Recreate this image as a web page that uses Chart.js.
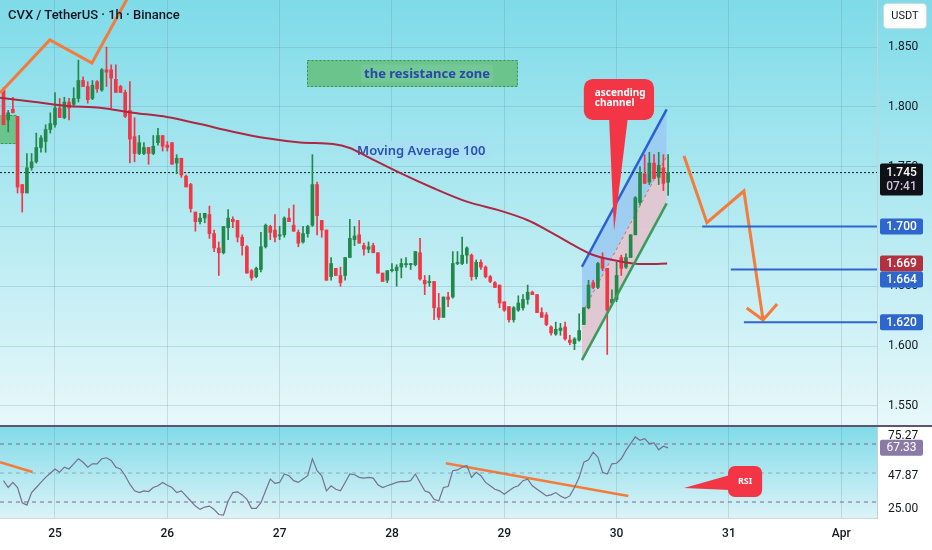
<!DOCTYPE html>
<html><head><meta charset="utf-8">
<script src="https://cdn.jsdelivr.net/npm/chart.js@4.4.1/dist/chart.umd.min.js"></script>
<style>
html,body{margin:0;padding:0;width:932px;height:550px;overflow:hidden;background:#fff}
#p1{position:absolute;left:0;top:0;width:932px;height:425px}
#sep{position:absolute;left:0;top:425px;width:932px;height:2px;background:#5e5470}
#p2{position:absolute;left:0;top:427px;width:932px;height:123px}
#title{position:absolute;left:8px;top:7px;font:500 13px Roboto,sans-serif;color:#131722;white-space:nowrap}
</style></head><body>
<div id="p1"><canvas id="c1"></canvas></div>
<div id="sep"></div>
<div id="p2"><canvas id="c2"></canvas></div>
<div id="title">CVX / TetherUS · 1h · Binance</div>
<script>
// ---------------- data ----------------
const firstHour = 13; // hours after 24 Mar 00:00 of the first visible candle
const openP = [1.814,1.789,1.798,1.792,1.735,1.728,1.749,1.754,1.766,1.771,
1.781,1.785,1.799,1.791,1.804,1.802,1.807,1.822,1.817,1.807,
1.821,1.814,1.831,1.831,1.823,1.817,1.812,1.797,1.775,1.761,
1.761,1.766,1.761,1.770,1.776,1.768,1.770,1.753,1.757,1.742,
1.735,1.712,1.704,1.707,1.710,1.694,1.682,1.678,1.699,1.706,
1.705,1.691,1.683,1.663,1.658,1.664,1.683,1.700,1.697,1.692,
1.693,1.707,1.701,1.695,1.687,1.694,1.701,1.735,1.705,1.697,
1.658,1.665,1.659,1.659,1.674,1.689,1.693,1.684,1.681,1.684,
1.678,1.661,1.655,1.663,1.663,1.666,1.668,1.668,1.668,1.678,
1.655,1.653,1.654,1.632,1.624,1.641,1.641,1.669,1.669,1.676,
1.676,1.658,1.670,1.666,1.658,1.653,1.651,1.637,1.633,1.622,
1.630,1.632,1.639,1.645,1.643,1.628,1.626,1.616,1.610,1.613,
1.616,1.605,1.602,1.605,1.618,1.632,1.653,1.649,1.674,1.665,
1.636,1.639,1.674,1.666,1.674,1.693,1.720,1.744,1.737,1.753,
1.741,1.749,1.737];
const highP = [1.816,1.797,1.808,1.792,1.735,1.761,1.761,1.778,1.776,1.785,
1.795,1.812,1.807,1.808,1.807,1.816,1.839,1.825,1.821,1.822,
1.822,1.832,1.850,1.835,1.835,1.818,1.814,1.821,1.791,1.776,
1.770,1.766,1.776,1.782,1.776,1.771,1.770,1.760,1.757,1.743,
1.736,1.712,1.711,1.711,1.717,1.697,1.687,1.700,1.714,1.708,
1.705,1.693,1.684,1.664,1.666,1.695,1.702,1.701,1.710,1.700,
1.708,1.715,1.718,1.697,1.700,1.701,1.760,1.737,1.705,1.697,
1.674,1.665,1.666,1.674,1.706,1.700,1.705,1.686,1.687,1.686,
1.678,1.661,1.663,1.669,1.668,1.673,1.674,1.669,1.679,1.690,
1.659,1.659,1.654,1.644,1.641,1.645,1.679,1.679,1.691,1.683,
1.677,1.672,1.672,1.667,1.659,1.654,1.651,1.637,1.633,1.633,
1.642,1.643,1.651,1.646,1.643,1.632,1.628,1.617,1.620,1.619,
1.620,1.609,1.607,1.627,1.632,1.655,1.655,1.670,1.678,1.665,
1.647,1.670,1.676,1.677,1.693,1.725,1.750,1.760,1.762,1.760,
1.762,1.760,1.760];
const lowP = [1.785,1.779,1.795,1.728,1.712,1.728,1.747,1.753,1.762,1.762,
1.778,1.783,1.791,1.790,1.789,1.800,1.804,1.817,1.803,1.806,
1.812,1.813,1.817,1.799,1.812,1.812,1.791,1.753,1.754,1.760,
1.760,1.752,1.760,1.768,1.763,1.763,1.752,1.744,1.741,1.733,
1.712,1.696,1.702,1.703,1.690,1.679,1.659,1.677,1.689,1.699,
1.687,1.676,1.661,1.655,1.657,1.662,1.682,1.689,1.687,1.689,
1.691,1.704,1.696,1.683,1.686,1.691,1.700,1.693,1.691,1.655,
1.655,1.659,1.650,1.655,1.674,1.684,1.686,1.676,1.678,1.678,
1.661,1.654,1.653,1.662,1.650,1.657,1.666,1.664,1.667,1.655,
1.643,1.650,1.622,1.622,1.624,1.633,1.640,1.668,1.668,1.669,
1.655,1.656,1.664,1.657,1.653,1.649,1.632,1.629,1.620,1.620,
1.629,1.630,1.635,1.643,1.628,1.624,1.617,1.609,1.609,1.609,
1.605,1.601,1.597,1.604,1.618,1.631,1.648,1.648,1.663,1.593,
1.634,1.637,1.659,1.665,1.674,1.693,1.718,1.736,1.735,1.741,
1.735,1.730,1.726];
const closeP = [1.785,1.795,1.795,1.733,1.728,1.749,1.754,1.766,1.774,1.781,
1.786,1.799,1.791,1.804,1.799,1.807,1.822,1.817,1.806,1.818,
1.815,1.831,1.829,1.824,1.812,1.812,1.792,1.773,1.761,1.770,
1.766,1.761,1.767,1.776,1.767,1.766,1.752,1.757,1.743,1.733,
1.715,1.704,1.707,1.711,1.694,1.682,1.678,1.700,1.707,1.704,
1.691,1.684,1.661,1.657,1.665,1.683,1.701,1.695,1.691,1.693,
1.707,1.704,1.696,1.686,1.694,1.700,1.735,1.709,1.697,1.655,
1.669,1.659,1.653,1.674,1.690,1.692,1.686,1.681,1.683,1.678,
1.661,1.654,1.663,1.664,1.666,1.669,1.669,1.669,1.679,1.656,
1.652,1.654,1.632,1.624,1.641,1.639,1.669,1.670,1.676,1.682,
1.658,1.670,1.666,1.658,1.654,1.649,1.636,1.630,1.622,1.632,
1.636,1.639,1.645,1.643,1.628,1.624,1.618,1.611,1.614,1.615,
1.606,1.603,1.606,1.613,1.632,1.651,1.649,1.669,1.665,1.630,
1.639,1.659,1.665,1.674,1.693,1.724,1.745,1.736,1.753,1.740,
1.751,1.736,1.745];
const rsiVals = [44.7,40.0,43.5,40.0,29.5,27.9,36.5,40.0,43.5,47.0,
49.8,52.8,50.5,54.0,52.8,56.3,59.8,57.4,54.0,56.3,
56.3,59.8,60.5,58.6,54.0,52.8,48.1,42.3,37.7,36.5,
37.7,37.2,40.0,41.2,43.5,41.6,40.0,36.5,37.7,34.2,
30.7,27.2,24.9,26.5,27.2,24.9,21.4,20.9,30.7,36.5,
37.0,34.9,31.9,25.6,25.6,29.5,37.7,45.8,42.8,43.5,
49.3,48.1,44.7,43.5,45.8,48.1,59.8,51.6,48.1,37.7,
41.2,38.8,37.7,43.5,49.3,48.8,47.0,46.5,47.0,46.5,
41.9,40.0,41.2,42.3,43.5,44.2,44.0,44.7,49.3,43.5,
37.7,36.5,31.9,30.7,40.0,40.7,51.6,52.1,54.0,55.1,
47.0,50.5,48.1,43.5,41.2,38.8,37.7,35.3,37.7,40.0,
41.2,44.7,45.8,41.2,38.8,36.5,34.2,34.9,36.5,34.2,
32.6,34.2,40.0,47.0,57.4,59.1,64.4,60.9,50.5,49.3,
56.3,56.7,59.8,65.6,70.2,74.9,72.6,73.7,70.2,70.7,
66.0,68.5,67.33];
const maHours = [12.25,19.3,26.6,33.6,40.7,47.9,55.0,62.0,69.3,76.4,83.4,87.0,90.7,97.7,104.8,112.0,119.1,124.9,129.1,134.7,139.0,143.2,147.5,150.5,154.8];
const maVals  = [1.8076,1.8043,1.8007,1.7993,1.7951,1.7915,1.7856,1.7792,1.7737,1.7702,1.7689,1.7656,1.7583,1.7447,1.7321,1.7207,1.7132,1.7054,1.6970,1.6845,1.6761,1.6719,1.6691,1.6686,1.6690];
const dayTicks  = [24,48,72,96,120,144,168,192];
const dayLabels = ['25','26','27','28','29','30','31','Apr'];
const priceTicks = [1.55,1.60,1.65,1.70,1.75,1.80,1.85];
const rsiTicks = [25.00,47.87,75.27];
const rsiBands = [70,50,30];
const currentPrice = 1.745, countdown = '07:41', maLast = 1.669, currentRsi = 67.33;
const levelVals  = [1.700,1.664,1.620];
const levelStart = [162.3,168.4,171.2];
const channelHours = [136.6,154.7];
const channelUpper = [1.6663,1.7979];
const channelMid   = [1.6273,1.7586];
const channelLower = [1.5883,1.7193];
const zigzagHours = [12.25,22.9,31.9,42.2];
const zigzagVals  = [1.8116,1.8559,1.8366,1.9102];
const arrowHours = [158.4,163.3,171.2,175.3];
const arrowVals  = [1.7589,1.7031,1.7296,1.6218];
const headHours = [171.8,175.3,178.3];
const headVals  = [1.6318,1.6218,1.6352];
const rsiTrend1Hours = [12.25,19.2], rsiTrend1Vals = [57.4,50.7];
const rsiTrend2Hours = [107.5,146.5], rsiTrend2Vals = [56.7,34.2];
const resZoneHours = [77.85,122.9], resZoneVals = [1.8166,1.8391], resTextHour = 103.5;
const leftZoneHours = [12.25,15.9], leftZoneVals = [1.7689,1.7932];
const maLabelHour = 87.9, maLabelVal = 1.7639;
const chCallHours = [137.0,152.0], chCallVals = [1.7890,1.8233], chTailHours = [142.4,146.4], chTip = [143.45,1.6962];
const rsiCallHours = [167.8,175.1], rsiCallVals = [33.4,54.8], rsiTailVals = [48.6,38.3], rsiTip = [158.4,39.7];
const xMin = 12.25, xMax = 199.64, yMin = 1.534, yMax = 1.8893, rsiMin = 18.97, rsiMax = 81.72;

// ---------------- build ----------------
const UP = '#23894a', DOWN = '#f23645', ORANGE = '#f47b3a', BLUE = '#2d66cf';
const GRID = 'rgba(95,140,160,0.24)';
const hoursArr = openP.map((_, i) => firstHour + i);
const candleCol = openP.map((o, i) => closeP[i] >= o ? UP : DOWN);
const pts = (hs, vs) => hs.map((h, i) => ({x: h, y: vs[i]}));
const flat = (v, h0) => [{x: h0, y: v}, {x: xMax, y: v}];
function zeroPad(s){ s.paddingTop = 0; s.paddingBottom = 0; s.paddingLeft = 0; s.paddingRight = 0; }
function rr(ctx, x, y, w, h, r){ ctx.beginPath(); if (ctx.roundRect) ctx.roundRect(x, y, w, h, r); else ctx.rect(x, y, w, h); }
const FONT = "Roboto, 'Noto Sans', sans-serif";

const line = (data, color, width, extra) => Object.assign({type: 'line', data, borderColor: color, borderWidth: width, pointRadius: 0, fill: false, tension: 0}, extra || {});

const pricePlugin = {
  id: 'pricePlugin',
  beforeDraw(chart){
    const {ctx, width, height} = chart;
    const g = ctx.createLinearGradient(0, 0, 0, height);
    g.addColorStop(0, '#7edbe8'); g.addColorStop(1, '#e7f8fa');
    ctx.save(); ctx.fillStyle = g; ctx.fillRect(0, 0, width, height); ctx.restore();
  },
  beforeDatasetsDraw(chart){
    const {ctx} = chart, X = chart.scales.x, Y = chart.scales.y;
    ctx.save();
    // resistance zone
    let x0 = X.getPixelForValue(resZoneHours[0]), x1 = X.getPixelForValue(resZoneHours[1]);
    let y0 = Y.getPixelForValue(resZoneVals[1]), y1 = Y.getPixelForValue(resZoneVals[0]);
    ctx.fillStyle = '#6bc48c'; ctx.fillRect(x0, y0, x1 - x0, y1 - y0);
    ctx.setLineDash([2, 2]); ctx.strokeStyle = '#3b8f58'; ctx.lineWidth = 1; ctx.strokeRect(x0 + .5, y0 + .5, x1 - x0 - 1, y1 - y0 - 1);
    ctx.setLineDash([]);
    ctx.font = "bold 13px 'Noto Sans', sans-serif"; ctx.textAlign = 'center'; ctx.textBaseline = 'middle';
    const tx = X.getPixelForValue(resTextHour), ty = (y0 + y1) / 2;
    const tw = ctx.measureText('the resistance zone').width;
    ctx.fillStyle = '#74c897'; ctx.fillRect(tx - tw / 2 - 3, ty - 9, tw + 6, 18);
    ctx.fillStyle = '#2a48a8'; ctx.fillText('the resistance zone', tx, ty + 1);
    // left zone
    x0 = X.getPixelForValue(leftZoneHours[0]); x1 = X.getPixelForValue(leftZoneHours[1]);
    y0 = Y.getPixelForValue(leftZoneVals[1]); y1 = Y.getPixelForValue(leftZoneVals[0]);
    ctx.fillStyle = '#6bc48c'; ctx.fillRect(x0, y0, x1 - x0, y1 - y0);
    ctx.setLineDash([2, 2]); ctx.strokeStyle = '#3b8f58'; ctx.strokeRect(x0 - 2, y0 + .5, x1 - x0 + 1.5, y1 - y0 - 1); ctx.setLineDash([]);
    // MA label
    ctx.font = "600 13px 'Noto Sans', sans-serif"; ctx.textAlign = 'left';
    const mx = X.getPixelForValue(maLabelHour), my = Y.getPixelForValue(maLabelVal);
    const mw = ctx.measureText('Moving Average 100').width;
    ctx.fillStyle = 'rgba(170,222,244,0.95)'; ctx.fillRect(mx, my - 9, mw + 6, 18);
    ctx.fillStyle = '#2a50b2'; ctx.fillText('Moving Average 100', mx + 3, my + 1);
    ctx.restore();
  },
  afterDraw(chart){
    const {ctx, chartArea} = chart, X = chart.scales.x, Y = chart.scales.y;
    ctx.save();
    // callout "ascending channel"
    const x0 = X.getPixelForValue(chCallHours[0]), x1 = X.getPixelForValue(chCallHours[1]);
    const y0 = Y.getPixelForValue(chCallVals[1]), y1 = Y.getPixelForValue(chCallVals[0]);
    ctx.fillStyle = '#f23645';
    rr(ctx, x0, y0, x1 - x0, y1 - y0, 9); ctx.fill();
    ctx.beginPath();
    ctx.moveTo(X.getPixelForValue(chTailHours[0]), y1 - 2);
    ctx.lineTo(X.getPixelForValue(chTip[0]), Y.getPixelForValue(chTip[1]));
    ctx.lineTo(X.getPixelForValue(chTailHours[1]), y1 - 2);
    ctx.closePath(); ctx.fill();
    ctx.fillStyle = '#fff'; ctx.font = "bold 10px 'Noto Sans', sans-serif"; ctx.textAlign = 'left'; ctx.textBaseline = 'middle';
    ctx.fillText('ascending', x0 + 11, y0 + 14);
    ctx.fillText('channel', x0 + 11, y0 + 24);
    // USDT box
    const ax = chartArea.right;
    ctx.fillStyle = '#fff'; ctx.strokeStyle = '#d3d8dd'; ctx.lineWidth = 1;
    rr(ctx, ax + 6.5, 3.5, 43, 25, 4); ctx.fill(); ctx.stroke();
    ctx.fillStyle = '#131722'; ctx.font = "11px " + FONT; ctx.textAlign = 'center';
    ctx.fillText('USDT', ax + 28, 16.5);
    // right-axis value boxes
    const boxes = [
      {v: levelVals[0], t: levelVals[0].toFixed(3), c: BLUE},
      {v: maLast, t: maLast.toFixed(3), c: '#b3303e'},
      {v: levelVals[1], t: levelVals[1].toFixed(3), c: BLUE},
      {v: levelVals[2], t: levelVals[2].toFixed(3), c: BLUE}
    ];
    let lastBottom = -1e9;
    ctx.font = "500 12px " + FONT;
    boxes.forEach(b => {
      let top = Y.getPixelForValue(b.v) - 8;
      if (top < lastBottom) top = lastBottom;
      ctx.fillStyle = b.c; rr(ctx, ax + 3, top, 43, 16, 2); ctx.fill();
      ctx.fillStyle = '#fff'; ctx.fillText(b.t, ax + 24.5, top + 8.5);
      lastBottom = top + 16;
    });
    // current price box
    const cy = Y.getPixelForValue(currentPrice);
    ctx.fillStyle = '#0f1116'; rr(ctx, ax + 3, cy - 9, 43, 32, 2); ctx.fill();
    ctx.fillStyle = '#fff'; ctx.fillText(currentPrice.toFixed(3), ax + 24.5, cy);
    ctx.fillStyle = '#cfc4dc'; ctx.fillText(countdown, ax + 24.5, cy + 14);
    ctx.restore();
  }
};

new Chart(document.getElementById('c1'), {
  type: 'bar',
  data: { datasets: [
    line(pts(channelHours, channelUpper), '#2a5fd6', 2.5, {fill: '+1', backgroundColor: 'rgba(155,203,242,0.9)', order: 10}),
    line(pts(channelHours, channelMid), 'rgba(240,90,60,0.9)', 1, {fill: '+1', backgroundColor: 'rgba(226,196,206,0.92)', borderDash: [3, 3], order: 9}),
    line(pts(channelHours, channelLower), '#3c9a5a', 2.5, {order: 1}),
    {type: 'bar', data: hoursArr.map((h, i) => ({x: h, y: [lowP[i], highP[i]]})), backgroundColor: candleCol, barThickness: 1, grouped: false, order: 4},
    {type: 'bar', data: hoursArr.map((h, i) => ({x: h, y: [openP[i], closeP[i]]})), backgroundColor: candleCol, barThickness: 3, minBarLength: 1, grouped: false, order: 3},
    line(pts(maHours, maVals), '#ad2844', 2, {tension: 0.3, order: 2}),
    line(flat(currentPrice, xMin), '#1a1a1a', 1, {borderDash: [2, 2], order: 8}),
    line(flat(levelVals[0], levelStart[0]), BLUE, 2, {order: 1}),
    line(flat(levelVals[1], levelStart[1]), BLUE, 2, {order: 1}),
    line(flat(levelVals[2], levelStart[2]), BLUE, 2, {order: 1}),
    line(pts(zigzagHours, zigzagVals), ORANGE, 3, {order: 1}),
    line(pts(arrowHours, arrowVals), ORANGE, 3, {order: 1}),
    line(pts(headHours, headVals), ORANGE, 3, {order: 1})
  ]},
  options: {
    responsive: true, maintainAspectRatio: false, animation: false,
    layout: {padding: 0},
    plugins: {legend: {display: false}, tooltip: {enabled: false}},
    scales: {
      x: {type: 'linear', min: xMin, max: xMax, offset: false,
          afterBuildTicks: s => { s.ticks = dayTicks.map(v => ({value: v})); },
          ticks: {display: false}, grid: {color: GRID, drawTicks: false, offset: false}, border: {display: false},
          afterFit: s => { s.height = 0; zeroPad(s); }},
      y: {position: 'right', min: yMin, max: yMax, beginAtZero: false,
          afterBuildTicks: s => { s.ticks = priceTicks.map(v => ({value: v})); },
          ticks: {callback: v => Number(v).toFixed(3), color: '#131722', font: {family: FONT, size: 12}, padding: 11},
          grid: {color: GRID, drawTicks: false}, border: {color: '#c2d4da'},
          afterFit: s => { s.width = 55; zeroPad(s); }}
    }
  },
  plugins: [pricePlugin]
});

const rsiPlugin = {
  id: 'rsiPlugin',
  beforeDraw(chart){
    const {ctx, width, height, chartArea} = chart;
    ctx.save(); ctx.fillStyle = '#ffffff'; ctx.fillRect(0, 0, width, height);
    const g = ctx.createLinearGradient(0, chartArea.top, 0, chartArea.bottom);
    g.addColorStop(0, '#80dbe8'); g.addColorStop(1, '#dcf3f7');
    ctx.fillStyle = g; ctx.fillRect(0, chartArea.top, chartArea.right, chartArea.bottom - chartArea.top);
    ctx.restore();
  },
  afterDraw(chart){
    const {ctx, chartArea} = chart, X = chart.scales.x, Y = chart.scales.y;
    ctx.save();
    // RSI callout
    const x0 = X.getPixelForValue(rsiCallHours[0]), x1 = X.getPixelForValue(rsiCallHours[1]);
    const y0 = Y.getPixelForValue(rsiCallVals[1]), y1 = Y.getPixelForValue(rsiCallVals[0]);
    ctx.fillStyle = '#f23645';
    rr(ctx, x0, y0, x1 - x0, y1 - y0, 7); ctx.fill();
    ctx.beginPath();
    ctx.moveTo(x0 + 2, Y.getPixelForValue(rsiTailVals[0]));
    ctx.lineTo(X.getPixelForValue(rsiTip[0]), Y.getPixelForValue(rsiTip[1]));
    ctx.lineTo(x0 + 2, Y.getPixelForValue(rsiTailVals[1]));
    ctx.closePath(); ctx.fill();
    ctx.fillStyle = '#fff'; ctx.font = "bold 9px 'Noto Sans', sans-serif"; ctx.textAlign = 'center'; ctx.textBaseline = 'middle';
    ctx.fillText('RSI', (x0 + x1) / 2, (y0 + y1) / 2);
    // current RSI box
    const ax = chartArea.right, ry = Y.getPixelForValue(currentRsi);
    ctx.fillStyle = '#8a7ba6'; rr(ctx, ax + 3, ry - 8, 43, 16, 2); ctx.fill();
    ctx.fillStyle = '#fff'; ctx.font = "12px " + FONT; ctx.fillText(currentRsi.toFixed(2), ax + 24.5, ry + 0.5);
    ctx.restore();
  }
};

new Chart(document.getElementById('c2'), {
  type: 'line',
  data: { datasets: [
    line(flat(rsiBands[0], xMin), '#7a6a8e', 1, {borderDash: [4, 4]}),
    line(flat(rsiBands[1], xMin), 'rgba(120,130,145,0.6)', 1, {borderDash: [4, 4]}),
    line(flat(rsiBands[2], xMin), '#7a6a8e', 1, {borderDash: [4, 4]}),
    line(hoursArr.map((h, i) => ({x: h, y: rsiVals[i]})), '#77708f', 1.2),
    line(pts(rsiTrend1Hours, rsiTrend1Vals), ORANGE, 2.5),
    line(pts(rsiTrend2Hours, rsiTrend2Vals), ORANGE, 2.5)
  ]},
  options: {
    responsive: true, maintainAspectRatio: false, animation: false,
    layout: {padding: 0},
    plugins: {legend: {display: false}, tooltip: {enabled: false}},
    scales: {
      x: {type: 'linear', min: xMin, max: xMax, offset: false,
          afterBuildTicks: s => { s.ticks = dayTicks.map(v => ({value: v})); },
          ticks: {callback: (v, i) => dayLabels[i], color: '#131722', font: {family: FONT, size: 12, weight: '500'}, padding: 9, maxRotation: 0, autoSkip: false},
          grid: {color: GRID, drawTicks: false}, border: {color: '#cfd8dc'},
          afterFit: s => { s.height = 32; zeroPad(s); }},
      y: {position: 'right', min: rsiMin, max: rsiMax,
          afterBuildTicks: s => { s.ticks = rsiTicks.map(v => ({value: v})); },
          ticks: {callback: v => Number(v).toFixed(2), color: '#131722', font: {family: FONT, size: 12}, padding: 11},
          grid: {display: false, drawTicks: false}, border: {color: '#c2d4da'},
          afterFit: s => { s.width = 55; zeroPad(s); }}
    }
  },
  plugins: [rsiPlugin]
});
</script>
</body></html>
